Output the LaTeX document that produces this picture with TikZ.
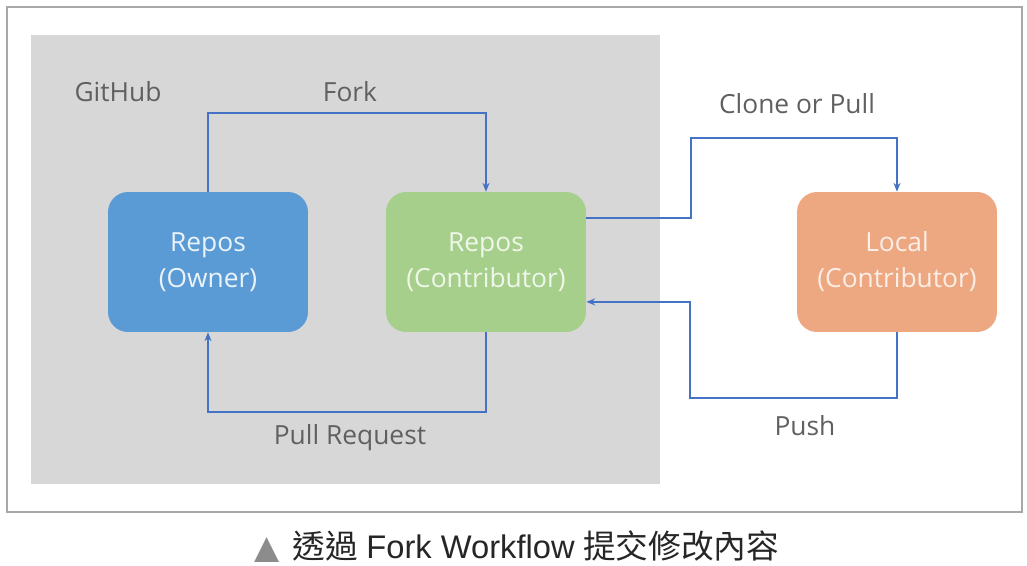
\documentclass[tikz,border=0pt]{standalone}
\usepackage{fontspec}
\setmainfont{Open Sans}
\newfontfamily\captionfont{Liberation Sans}
\newfontfamily\cjkfont{Noto Sans CJK TC}
\newfontfamily\symbolfont{DejaVu Sans}
\usetikzlibrary{arrows.meta}

\definecolor{framegray}{HTML}{A8A8A8}
\definecolor{hubgray}{HTML}{D7D7D7}
\definecolor{ownerblue}{HTML}{5B9BD5}
\definecolor{contribgreen}{HTML}{A6CF8B}
\definecolor{localorange}{HTML}{EDA882}
\definecolor{flowblue}{HTML}{4472C4}
\definecolor{labelgray}{HTML}{606060}

\tikzset{
  repo/.style={rounded corners=0.4cm, minimum width=4cm, minimum height=2.8cm,
    align=center, font=\fontsize{15}{20.5}\selectfont},
  flow/.style={draw=flowblue, line width=1.3pt, -{Stealth[length=5pt,width=4pt]}},
  lbl/.style={text=labelgray, font=\fontsize{15}{18}\selectfont}
}

\begin{document}
\begin{tikzpicture}[x=0.02cm, y=-0.02cm]
  \useasboundingbox (0,0) rectangle (1027,565);
  \draw[framegray, line width=0.8pt] (7,7) rectangle (1022,512);
  \fill[hubgray] (31,35) rectangle (660,484);

  \node[lbl] (github) at (118,92) {GitHub};

  \node[repo, fill=ownerblue, text=white!88!ownerblue] (owner) at (208,262) {Repos\\(Owner)};
  \node[repo, fill=contribgreen, text=white!82!contribgreen] (contrib) at (486,262) {Repos\\(Contributor)};
  \node[repo, fill=localorange, text=white!80!localorange] (local) at (897,262) {Local\\(Contributor)};

  \draw[flow] (owner.north) -- ++(0,-79) -| (contrib.north);
  \draw[flow] (contrib.south) -- ++(0,80) -| (owner.south);
  \draw[flow] ([yshift=25pt]contrib.east) -- ++(105,0) -- ++(0,-80) -| (local.north);
  \draw[flow] (local.south) -- ++(0,66) -- ++(-207,0) |- ([yshift=-22.7pt]contrib.east);

  \node[lbl] (fork) at (350,92) {Fork};
  \node[lbl] (pullreq) at (350,438) {Pull Request};
  \node[lbl] (clone) at (797,104) {Clone or Pull};
  \node[lbl] (push) at (805,426) {Push};

  \node[text=black!85, font=\fontsize{18.6}{22}\selectfont, anchor=west, inner sep=0pt] (caption) at (254,547)
    {{\symbolfont\color{black!45}▲}\hspace{0.4em}{\cjkfont 透過} {\captionfont Fork Workflow} {\cjkfont 提交修改內容}};
\end{tikzpicture}
\end{document}
